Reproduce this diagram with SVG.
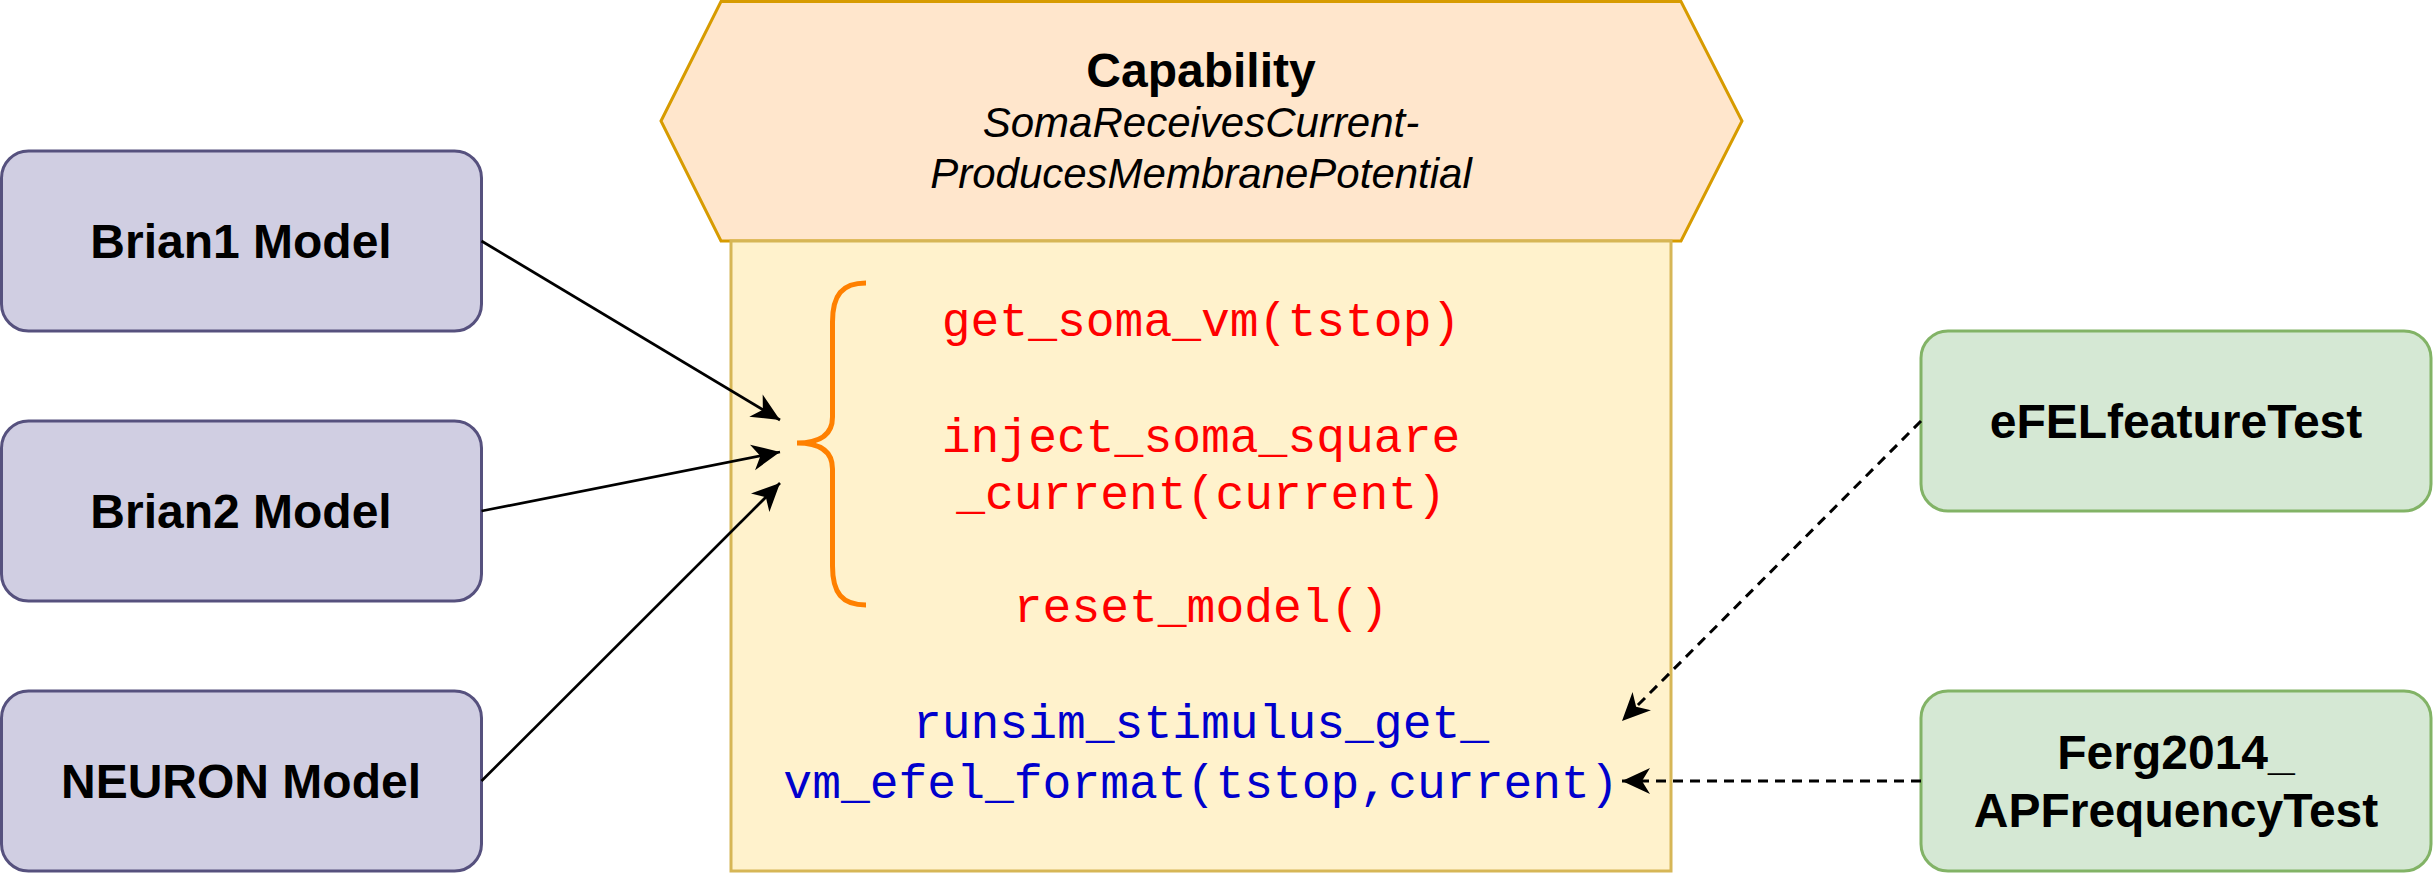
<svg xmlns="http://www.w3.org/2000/svg" width="2433" height="873" viewBox="0 0 2433 873">
  <style>
    .model { fill: #d0cee2; stroke: #56517e; stroke-width: 3; }
    .test { fill: #d5e8d4; stroke: #82b366; stroke-width: 3; }
    .lbl { font-family: "Liberation Sans", Arial, sans-serif; font-weight: bold; font-size: 48px; fill: #000; text-anchor: middle; }
    .cap { font-family: "Liberation Sans", Arial, sans-serif; font-size: 42px; font-style: italic; fill: #000; text-anchor: middle; }
    .code { font-family: "Liberation Mono", "Courier New", monospace; font-size: 48px; text-anchor: middle; }
    .red { fill: #ff0000; }
    .blue { fill: #0000cc; }
    .solid { fill: none; stroke: #000; stroke-width: 2.7; marker-end: url(#arrow); }
    .dashed { fill: none; stroke: #000; stroke-width: 3; stroke-dasharray: 10 7; marker-end: url(#arrow); }
  </style>
  <defs>
    <marker id="arrow" markerUnits="userSpaceOnUse" viewBox="-30 -15 32 30" refX="0" refY="0" markerWidth="32" markerHeight="30" orient="auto">
      <path d="M0,0 L-28,-13 L-20,0 L-28,13 Z" fill="#000" stroke="none"/>
    </marker>
  </defs>

  <g id="capability">
    <polygon points="661,121 721,1.5 1681,1.5 1742,121 1681,241 721,241" fill="#ffe6cc" stroke="#d79b00" stroke-width="3"/>
    <text class="lbl" x="1201" y="87" font-size="47">Capability</text>
    <text class="cap" x="1201" y="137">SomaReceivesCurrent-</text>
    <text class="cap" x="1201" y="188">ProducesMembranePotential</text>
  </g>

  <g id="capability-methods">
    <rect x="731" y="241" width="940" height="630" fill="#fff2cc" stroke="#d6b656" stroke-width="3"/>
    <path d="M 866 283 C 842 283 832.5 295 832.5 322 L 832.5 417 C 832.5 435 820 443 797 443 C 820 443 832.5 451 832.5 469 L 832.5 566 C 832.5 593 842 605 866 605" fill="none" stroke="#ff8000" stroke-width="5"/>
    <text class="code red" x="1201" y="336">get_soma_vm(tstop)</text>
    <text class="code red" x="1201" y="452">inject_soma_square</text>
    <text class="code red" x="1201" y="509">_current(current)</text>
    <text class="code red" x="1201" y="622">reset_model()</text>
    <text class="code blue" x="1201" y="738">runsim_stimulus_get_</text>
    <text class="code blue" x="1201" y="798">vm_efel_format(tstop,current)</text>
  </g>

  <g id="brian1">
    <rect class="model" x="1.5" y="151" width="480" height="180" rx="27" ry="27"/>
    <text class="lbl" x="241" y="258">Brian1 Model</text>
  </g>
  <g id="brian2">
    <rect class="model" x="1.5" y="421" width="480" height="180" rx="27" ry="27"/>
    <text class="lbl" x="241" y="528">Brian2 Model</text>
  </g>
  <g id="neuron">
    <rect class="model" x="1.5" y="691" width="480" height="180" rx="27" ry="27"/>
    <text class="lbl" x="241" y="798">NEURON Model</text>
  </g>

  <g id="efel">
    <rect class="test" x="1921" y="331" width="510" height="180" rx="27" ry="27"/>
    <text class="lbl" x="2176" y="438">eFELfeatureTest</text>
  </g>
  <g id="ferg">
    <rect class="test" x="1921" y="691" width="510" height="180" rx="27" ry="27"/>
    <text class="lbl" x="2176" y="769">Ferg2014_</text>
    <text class="lbl" x="2176" y="827">APFrequencyTest</text>
  </g>

  <g id="connectors">
    <line class="solid" x1="481.5" y1="241" x2="780" y2="420"/>
    <line class="solid" x1="481.5" y1="511" x2="780" y2="452"/>
    <line class="solid" x1="481.5" y1="781" x2="780" y2="483"/>
    <line class="dashed" x1="1921" y1="421" x2="1622" y2="721"/>
    <line class="dashed" x1="1921" y1="781" x2="1622" y2="781"/>
  </g>
</svg>
